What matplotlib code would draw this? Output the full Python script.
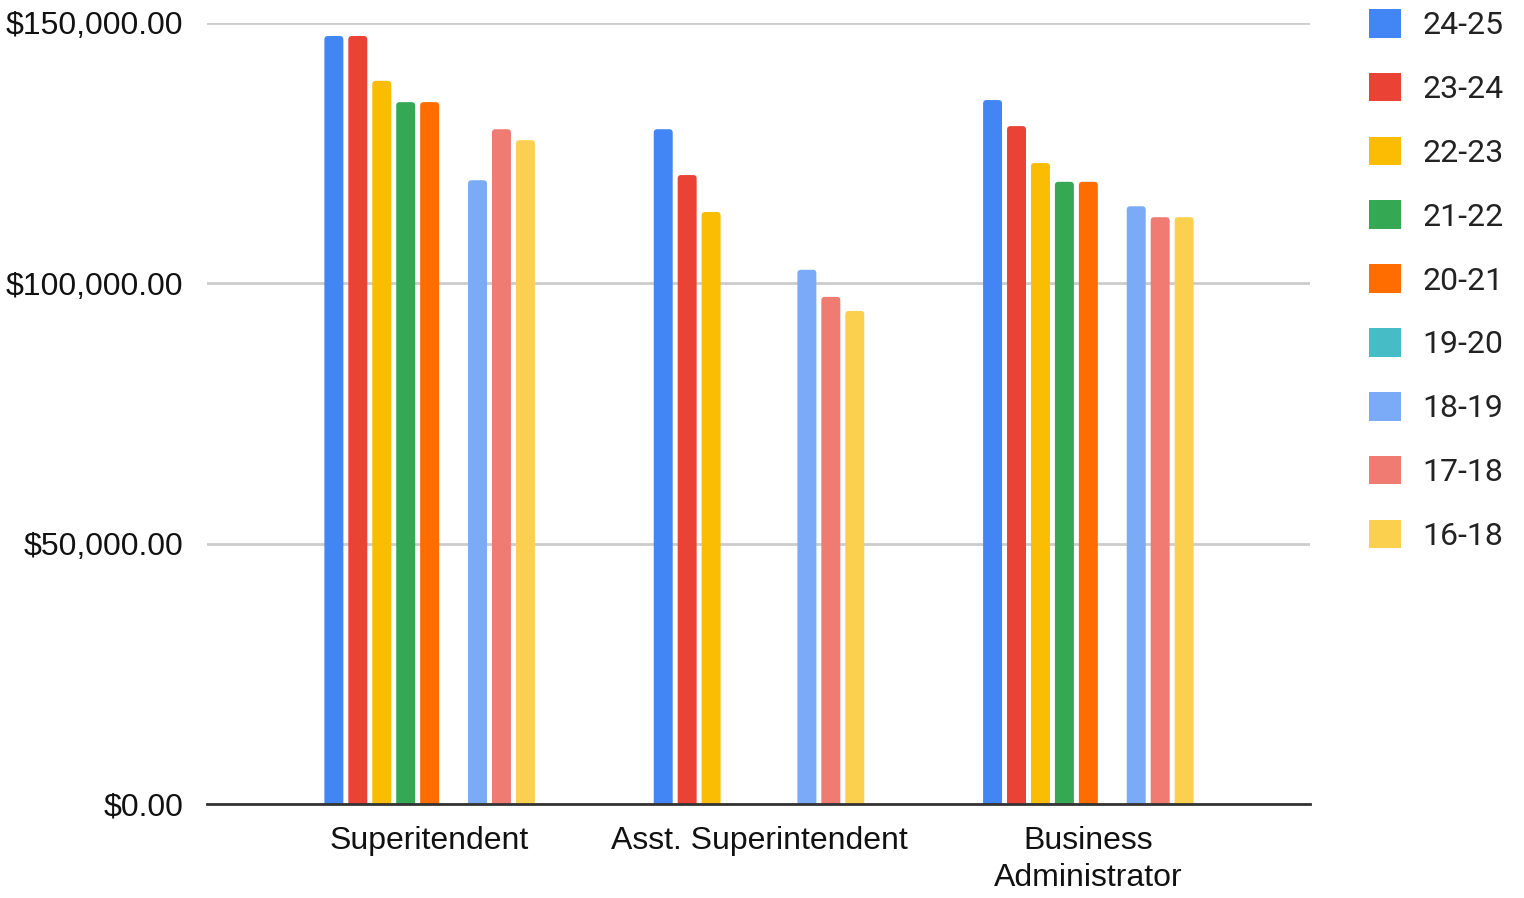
import numpy as np
import matplotlib
matplotlib.use("Agg")
import matplotlib.pyplot as plt
from matplotlib.patches import FancyBboxPatch, Patch
from matplotlib.ticker import FuncFormatter, FixedLocator

categories = ["Superitendent", "Asst. Superintendent", "Business\nAdministrator"]
years = ["24-25", "23-24", "22-23", "21-22", "20-21", "19-20", "18-19", "17-18", "16-18"]
colors = ["#4285F4", "#EA4335", "#FBBC04", "#34A853", "#FF6D01",
          "#46BDC6", "#7BAAF7", "#F07B72", "#FCD04F"]

# salary per year, order: Superintendent, Asst. Superintendent, Business Administrator
sal_24_25 = [147500, 129600, 135200]
sal_23_24 = [147500, 120800, 130200]
sal_22_23 = [138900, 113700, 123100]
sal_21_22 = [134800, 0, 119500]
sal_20_21 = [134800, 0, 119500]
sal_19_20 = [0, 0, 0]
sal_18_19 = [119800, 102600, 114800]
sal_17_18 = [129600, 97400, 112700]
sal_16_18 = [127500, 94700, 112700]
series = [sal_24_25, sal_23_24, sal_22_23, sal_21_22, sal_20_21,
          sal_19_20, sal_18_19, sal_17_18, sal_16_18]

plt.rcParams["font.family"] = ["Liberation Sans", "DejaVu Sans"]

fig = plt.figure(figsize=(15.24, 8.98), dpi=100)
ax = fig.add_axes([207/1524, 94/898, 1103/1524, 781/898])

x = np.arange(len(categories))
pitch = 0.0727
width = 0.0576
xlim = (-0.676, 2.673)
ylim = (0, 150000)
# data units per pixel, to get round corners of ~3px
xpp = (xlim[1] - xlim[0]) / 1103
ypp = (ylim[1] - ylim[0]) / 781
r = 3.5 * xpp

for i, (vals, c, lab) in enumerate(zip(series, colors, years)):
    bars = ax.bar(x + (i - 4) * pitch, vals, width, color=c, label=lab, zorder=3)
    # swap plain rectangles for rounded ones
    for b in bars:
        b.set_visible(False)
        if b.get_height() <= 0:
            continue
        pad_y = 4 * ypp
        p = FancyBboxPatch((b.get_x(), -pad_y), b.get_width(), b.get_height() + pad_y,
                           boxstyle="round,pad=0,rounding_size=%f" % r,
                           mutation_aspect=ypp / xpp, facecolor=c, edgecolor="none",
                           zorder=3)
        ax.add_patch(p)

ax.set_xlim(*xlim)
ax.set_ylim(*ylim)
ax.yaxis.set_major_locator(FixedLocator([0, 50000, 100000, 150000]))
ax.yaxis.set_major_formatter(FuncFormatter(lambda v, p: "${:,.2f}".format(v)))
ax.set_xticks(x)
ax.set_xticklabels(categories, fontsize=23, color="#111111", linespacing=1.3)
ax.tick_params(axis="y", labelsize=23, colors="#111111", length=0, pad=17)
ax.tick_params(axis="x", length=0, pad=16)
ax.grid(axis="y", color="#cccccc", lw=2, zorder=0)
ax.set_axisbelow(True)
for s in ["top", "right", "left"]:
    ax.spines[s].set_visible(False)
ax.spines["bottom"].set_color("#333333")
ax.spines["bottom"].set_linewidth(2)
ax.spines["bottom"].set_zorder(4)

handles = [Patch(facecolor=c, edgecolor="none", label=lab) for c, lab in zip(colors, years)]
leg = fig.legend(handles=handles, loc="upper left", bbox_to_anchor=(1369/1524, 1 - 9/898),
                 frameon=False, handlelength=1.0, handleheight=1.0,
                 labelspacing=1.02, handletextpad=0.66, borderaxespad=0,
                 borderpad=0, prop={"family": ["Roboto", "DejaVu Sans"], "size": 23})
for t in leg.get_texts():
    t.set_color("#222222")

fig.savefig("out.png", dpi=100)
